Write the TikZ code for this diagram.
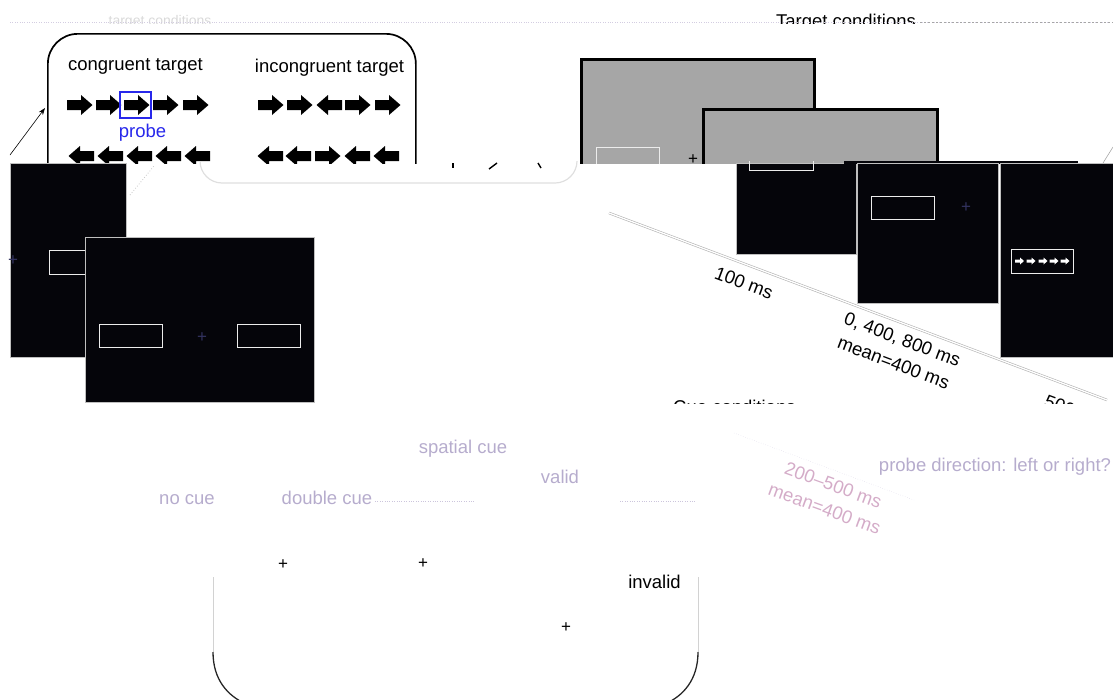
\documentclass[tikz,border=0pt]{standalone}
\usepackage{fontspec}
\setmainfont{Liberation Sans}
\usetikzlibrary{arrows.meta}
\definecolor{scr}{RGB}{5,5,10}
\definecolor{cuegray}{RGB}{166,166,166}
\definecolor{faint}{RGB}{182,172,205}
\definecolor{faintpink}{RGB}{212,172,200}
\definecolor{probeblue}{RGB}{40,40,235}
\definecolor{dimplus}{RGB}{50,50,95}
\begin{document}
\begin{tikzpicture}[x=1pt,y=-1pt,
  lbl/.style={font=\fontsize{18.5}{25}\selectfont, inner sep=0pt},
  faintlbl/.style={lbl, text=faint},
  screen/.style={fill=scr, draw=gray!50, line width=0.8pt, inner sep=0pt, anchor=north west},
  cuescreen/.style={fill=cuegray, draw=black, line width=2.5pt, inner sep=0pt, anchor=north west},
  holder/.style={draw=white!85!gray, line width=1.2pt, inner sep=0pt, anchor=north west},
  plus/.style={font=\fontsize{17}{18}\selectfont, inner sep=0pt},
  tline/.style={draw=gray!60, double=white, line width=0.6pt, double distance=1.3pt},
  rar/.pic={\fill (-13,-5) -- (1,-5) -- (1,-10) -- (12.5,0) -- (1,10) -- (1,5) -- (-13,5) -- cycle;},
  lar/.pic={\fill (13,-5) -- (-1,-5) -- (-1,-10) -- (-12.5,0) -- (-1,10) -- (-1,5) -- (13,5) -- cycle;},
  sar/.pic={\fill[white] (-4.5,-1.5) -- (0.5,-1.5) -- (0.5,-3.5) -- (4.5,0) -- (0.5,3.5) -- (0.5,1.5) -- (-4.5,1.5) -- cycle;},
]
\useasboundingbox (0,0) rectangle (1113,699);
\clip (0,0) rectangle (1113,699);

% ---------- top strip ----------
\begin{scope}
\clip (0,0) rectangle (1113,23);
\node[lbl, anchor=base] (tc) at (846,27) {Target conditions};
\node[lbl, text=gray!30, font=\fontsize{14}{16}\selectfont, anchor=base] (tcf) at (160,25) {target conditions};
\end{scope}
\coordinate (d1) at (10,22.5);
\coordinate (d2) at (1113,22.5);
\coordinate (d3) at (920,22.5);
\draw[dotted, draw=faint!60] (d1) -- (d2);
\draw[dash pattern=on 2pt off 2pt, draw=gray!70] (d3) -- (d2);

% ---------- top band ----------
\begin{scope}
\clip (0,23) rectangle (1113,163);
\node[draw, line width=1.7pt, rounded corners=30, minimum width=368, minimum height=200, inner sep=0pt, anchor=north west] (tbox) at (47,33) {};
\node[lbl, anchor=base] (cong) at (135.5,70) {congruent target};
\node[lbl, anchor=base] (incong) at (329.5,72) {incongruent target};
% row 1
\pic at (80,105) {rar};
\pic at (109,105) {rar};
\pic at (137,105) {rar};
\pic at (166,105) {rar};
\pic at (196,105) {rar};
\pic at (271,105) {rar};
\pic at (300,105) {rar};
\pic at (329,105) {lar};
\pic at (358,105) {rar};
\pic at (388,105) {rar};
\node[draw=probeblue, line width=1.5pt, minimum width=31, minimum height=26, inner sep=0pt] (pbox) at (135.5,105) {};
\node[lbl, text=probeblue, anchor=base] (probe) at (142.5,137) {probe};
% row 2
\pic at (81,156) {lar};
\pic at (110,156) {lar};
\pic at (139,156) {lar};
\pic at (168,156) {lar};
\pic at (197,156) {lar};
\pic at (270,156) {lar};
\pic at (298,156) {lar};
\pic at (328,156) {rar};
\pic at (357,156) {lar};
\pic at (386,156) {lar};
% cue screens
\node[cuescreen, minimum width=233, minimum height=200] (cs1) at (580,58) {};
\node[holder, minimum width=63, minimum height=30] (cs1l) at (596,147) {};
\node[plus] (cs1p) at (693,160) {+};
\node[cuescreen, minimum width=234, minimum height=200] (cs2) at (702,108) {};
% connector into the box
\coordinate (ls) at (10,155);
\coordinate (lt) at (45,108);
\draw[-{Stealth[length=7pt,width=5pt]}, line width=0.6pt] (ls) -- (lt);
\coordinate (rs) at (1103,163);
\coordinate (re) at (1113,147);
\draw[gray!70, line width=0.6pt] (rs) -- (re);
\end{scope}

% ---------- middle band ----------
\begin{scope}
\clip (0,161) rectangle (1113,403);
\node[screen, minimum width=116, minimum height=194] (s1) at (10,163) {};
\node[holder, minimum width=63, minimum height=24] (s1l) at (49,250) {};
\node[plus, text=dimplus] (s1p) at (13,261) {+};
\node[screen, minimum width=229, minimum height=165] (s2) at (85,237) {};
\node[holder, minimum width=63, minimum height=23] (s2l) at (99,324) {};
\node[holder, minimum width=63, minimum height=23] (s2r) at (237,324) {};
\node[plus, text=dimplus] (s2p) at (202,338) {+};
% right screens
\node[screen, minimum width=120, minimum height=91] (s3) at (736,163) {};
\node[holder, minimum width=64, minimum height=20] (s3l) at (749,150) {};
\node[fill=scr, inner sep=0pt, minimum width=234, minimum height=3, anchor=north west] (s4top) at (844,161) {};
\node[screen, minimum width=141, minimum height=140] (s4) at (857,163) {};
\node[holder, minimum width=63, minimum height=23] (s4l) at (871,196) {};
\node[plus, text=dimplus] (s4p) at (966,208) {+};
\node[screen, minimum width=130, minimum height=194] (s5) at (1000,163) {};
\node[holder, minimum width=62, minimum height=24] (s5l) at (1011,249) {};
\pic at (1019.5,261) {sar};
\pic at (1031,261) {sar};
\pic at (1043,261) {sar};
\pic at (1054,261) {sar};
\pic at (1065,261) {sar};
% timeline
\coordinate (t0) at (609,213);
\coordinate (t1) at (1107,400);
\draw[tline] (t0) -- (t1);
\node[lbl, rotate=-20.6] (l100) at (744,283) {100 ms};
\node[lbl, rotate=-20.6, align=center] (l0400) at (898,351) {0, 400, 800 ms\\mean=400 ms};
\node[lbl, rotate=-20.6, anchor=base west] (l500) at (1043,406) {500 ms};
\node[lbl, anchor=base west] (cuec) at (673,413) {Cue conditions};
% faint rounded outline under the box
\coordinate (fb1) at (200,140);
\coordinate (fb2) at (200,183);
\coordinate (fb3) at (577,183);
\coordinate (fb4) at (577,140);
\draw[gray!25, line width=1.2pt, rounded corners=22] (fb1) -- (fb2) -- (fb3) -- (fb4);
\coordinate (fl1) at (130,195);
\coordinate (fl2) at (154,166);
\draw[gray!45, dotted, line width=0.8pt] (fl1) -- (fl2);
% small fragments
\coordinate (m1a) at (453,163); \coordinate (m1b) at (453,168);
\coordinate (m2a) at (489,169); \coordinate (m2b) at (497,163);
\coordinate (m3a) at (538,163); \coordinate (m3b) at (541,168);
\draw[line width=1.6pt] (m1a) -- (m1b);
\draw[line width=1.4pt] (m2a) -- (m2b);
\draw[line width=1.4pt] (m3a) -- (m3b);
\end{scope}

% ---------- bottom band ----------
\node[faintlbl, anchor=base] (spat) at (463,453) {spatial cue};
\node[faintlbl, anchor=base] (valid) at (560,483) {valid};
\node[faintlbl, anchor=base] (nocue) at (187,504) {no cue};
\node[faintlbl, anchor=base] (dbl) at (327,504) {double cue};
\node[faintlbl, anchor=base] (pdir) at (995,471) {probe direction: left or right?};
\node[lbl, text=faintpink, rotate=-20, align=center] (f200) at (829,497) {200--500 ms\\mean=400 ms};
\coordinate (fd1) at (375,501); \coordinate (fd2) at (475,501);
\coordinate (fd3) at (620,501); \coordinate (fd4) at (696,501);
\coordinate (fd5) at (734,433); \coordinate (fd6) at (914,500);
\draw[faint!70, dotted] (fd1) -- (fd2);
\draw[faint!70, dotted] (fd3) -- (fd4);
\draw[faint!60, dotted] (fd5) -- (fd6);
\node[plus] (p1) at (283,565) {+};
\node[plus] (p2) at (423,564) {+};
\node[plus] (p3) at (566,628) {+};
\node[lbl, anchor=base] (inval) at (654.5,588) {invalid};
% rounded frame (lower part)
\coordinate (rl0) at (213,577); \coordinate (rl1) at (213,652);
\coordinate (rl2) at (246,704);
\coordinate (rr0) at (698,577); \coordinate (rr1) at (698,652);
\coordinate (rr2) at (665,704);
\draw[gray!35, line width=1pt] (rl0) -- (rl1);
\draw[gray!35, line width=1pt] (rr0) -- (rr1);
\draw[black!85, line width=1.3pt] (rl1) .. controls (213,680) and (228,696) .. (rl2);
\draw[black!85, line width=1.3pt] (rr1) .. controls (698,680) and (683,696) .. (rr2);
\end{tikzpicture}
\end{document}
